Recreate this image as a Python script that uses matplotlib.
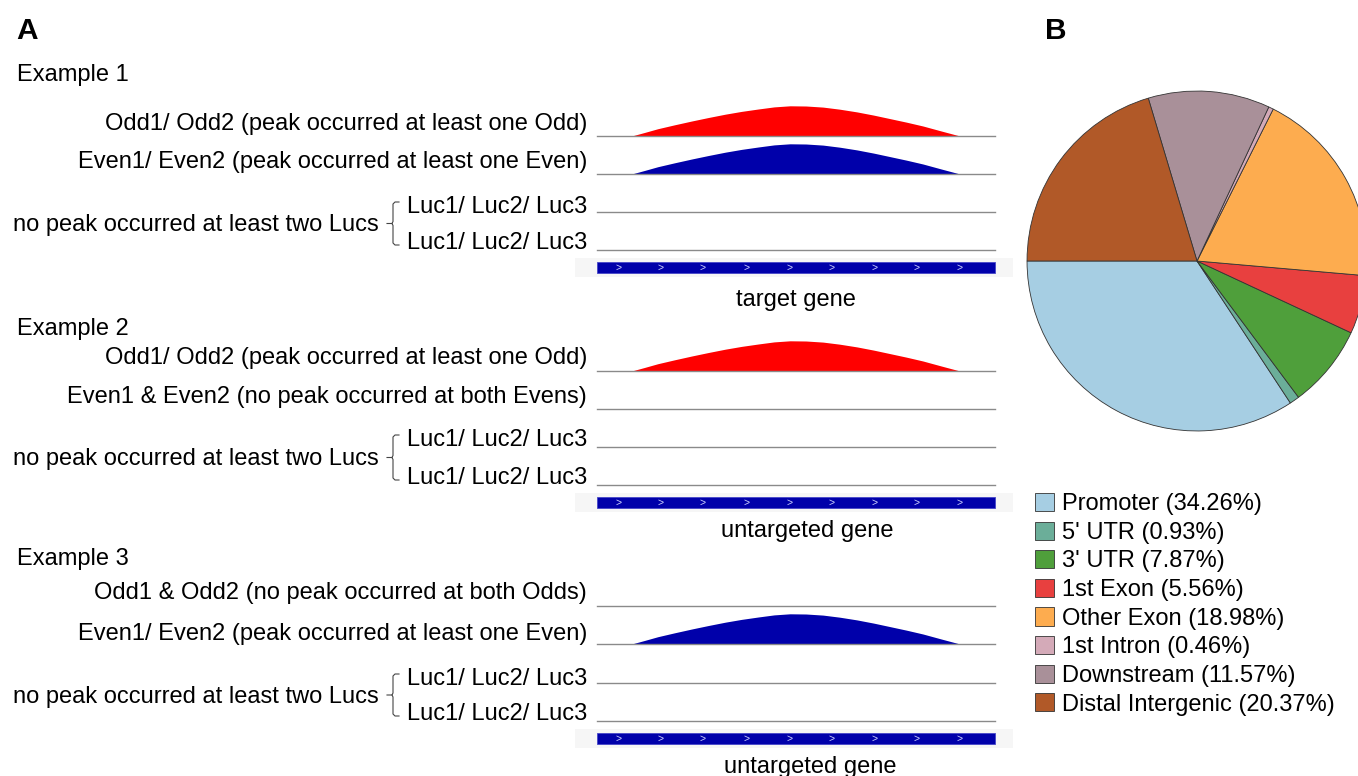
import matplotlib
matplotlib.use('Agg')
import matplotlib.pyplot as plt

plt.rcParams['font.family'] = ['Liberation Sans', 'DejaVu Sans']

W, H = 1358, 776
FS = 17
DY = 2  # text centre sits a little low in this font

# peak coverage along the gene body
peak_pos = [87, 120, 153, 195, 238, 280, 322, 363, 405, 445, 485, 525,
            568, 610, 653, 695, 736, 778, 819, 865, 912]
peak_cov = [0, 3.6, 7.3, 11.2, 15, 18.5, 21.8, 24.6, 27.0, 29.1, 30.2, 30.0,
            28.9, 26.8, 24.1, 20.9, 17.4, 13.8, 10, 5, 0]
gene_start, gene_end = 0, 1000
strand_marks = [53, 159, 266, 376, 483, 590, 697, 804, 912]

examples = ['Example 1', 'Example 2', 'Example 3']
gene_names = ['target gene', 'untargeted gene', 'untargeted gene']
odd_labels = ['Odd1/ Odd2 (peak occurred at least one Odd)',
              'Odd1/ Odd2 (peak occurred at least one Odd)',
              'Odd1 & Odd2 (no peak occurred at both Odds)']
even_labels = ['Even1/ Even2 (peak occurred at least one Even)',
               'Even1 & Even2 (no peak occurred at both Evens)',
               'Even1/ Even2 (peak occurred at least one Even)']
odd_peak = [True, True, False]
even_peak = [True, False, True]
luc_label = 'Luc1/ Luc2/ Luc3'
luc_group = 'no peak occurred at least two Lucs'

annot = ['Promoter', "5' UTR", "3' UTR", '1st Exon', 'Other Exon',
         '1st Intron', 'Downstream', 'Distal Intergenic']
annot_pct = [34.26, 0.93, 7.87, 5.56, 18.98, 0.46, 11.57, 20.37]
annot_colors = ['#A6CEE3', '#6BAE99', '#4F9F3B', '#E8403F', '#FDAC4F',
                '#D4AAB8', '#A99099', '#B15928']

# layout (pixels from top-left)
ex_y = [73, 327, 557]
line_y = [[136, 174, 212, 250], [371, 409, 447, 485], [606, 644, 683, 721]]
label_y = [[122, 160, 205, 241], [356, 395, 438, 476], [591, 632, 677, 712]]
strip_top = [258, 493, 729]
name_x = [796, 807, 810]
name_y = [298, 529, 765]


def fx(px):
    return px / W


def fy(py):
    return 1 - py / H


fig = plt.figure(figsize=(W / 100, H / 100), dpi=100)
ov = fig.add_axes([0, 0, 1, 1])
ov.set_xlim(0, W)
ov.set_ylim(H, 0)
ov.axis('off')

ov.text(16, 31, 'A', fontsize=21.5, fontweight='bold', va='center')
ov.text(1045, 31, 'B', fontsize=21.5, fontweight='bold', va='center')


def track(y, peak, color):
    ax = fig.add_axes([fx(597), fy(y), 398 / W, 31 / H])
    ax.set_xlim(gene_start, gene_end)
    ax.set_ylim(0, 31)
    if peak:
        ax.fill_between(peak_pos, 0, peak_cov, color=color, lw=0)
    ax.axhline(0, color='#8a8a8a', lw=1.0, clip_on=False)
    ax.axis('off')


def gene(top):
    ax = fig.add_axes([fx(575), fy(top + 19), 438 / W, 19 / H])
    ax.set_xlim(-55.3, 1045.2)
    ax.set_ylim(0, 19)
    ax.set_facecolor('#F6F6F6')
    for s in ax.spines.values():
        s.set_visible(False)
    ax.set_xticks([])
    ax.set_yticks([])
    ax.barh(9.5, gene_end - gene_start, left=gene_start, height=11,
            color='#0000AA', edgecolor='#4646C8', lw=0.6)
    for m in strand_marks:
        ax.text(m, 9.5, '>', color='#D0D4FF', fontsize=7.5,
                ha='center', va='center')


for i in range(3):
    ov.text(17, ex_y[i] + DY, examples[i], fontsize=FS, va='center')
    ov.text(587, label_y[i][0] + DY, odd_labels[i], fontsize=FS, ha='right', va='center')
    ov.text(587, label_y[i][1] + DY, even_labels[i], fontsize=FS, ha='right', va='center')
    ov.text(407, label_y[i][2] + DY, luc_label, fontsize=FS, va='center')
    ov.text(407, label_y[i][3] + DY, luc_label, fontsize=FS, va='center')

    # curly bracket joining the two Luc rows
    t = label_y[i][2] - 3
    b = label_y[i][3] + 4
    m = (t + b) / 2
    ov.plot([399, 395, 393, 393, 392, 387], [t, t, t + 2, m - 2, m, m],
            color='#444444', lw=0.8)
    ov.plot([392, 393, 393, 395, 399], [m, m + 2, b - 2, b, b],
            color='#444444', lw=0.8)
    ov.text(379, m + DY, luc_group, fontsize=FS, ha='right', va='center')

    track(line_y[i][0], odd_peak[i], '#FF0000')
    track(line_y[i][1], even_peak[i], '#0000AA')
    track(line_y[i][2], False, None)
    track(line_y[i][3], False, None)
    gene(strip_top[i])
    ov.text(name_x[i], name_y[i] + DY, gene_names[i], fontsize=FS, ha='center', va='center')

# pie of peak annotation
pa = fig.add_axes([fx(1025), fy(261 + 172), 344 / W, 344 / H])
wedges, _ = pa.pie(annot_pct, colors=annot_colors, startangle=180,
                   counterclock=True,
                   wedgeprops=dict(edgecolor='#333333', linewidth=0.6))
pa.set_xlim(-1.012, 1.012)
pa.set_ylim(-1.012, 1.012)

labels = [f'{a} ({p:.2f}%)' for a, p in zip(annot, annot_pct)]
fig.legend(wedges, labels, loc='upper left',
           bbox_to_anchor=(fx(1035), fy(493)), frameon=False, fontsize=FS,
           handlelength=0.8, handleheight=0.8, handletextpad=0.35,
           labelspacing=0.27, borderpad=0, borderaxespad=0)

fig.savefig('out.png', dpi=100, facecolor='white')
